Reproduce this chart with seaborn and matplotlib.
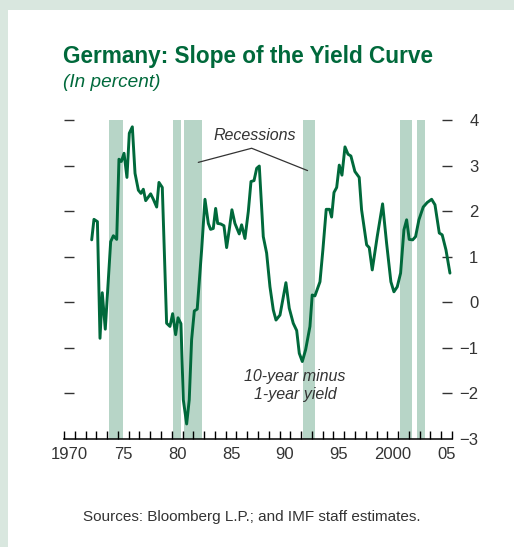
import matplotlib
matplotlib.use("Agg")
import matplotlib.pyplot as plt
import seaborn as sns
from matplotlib.patches import Rectangle

# data: 10-year minus 1-year yield, Germany
years = [1972.57, 1972.78, 1973.10, 1973.34, 1973.55, 1973.83, 1974.33, 1974.58, 1974.89,
         1975.10, 1975.32, 1975.57, 1975.84, 1976.06, 1976.34, 1976.59, 1976.90, 1977.14,
         1977.36, 1977.58, 1978.04, 1978.29, 1978.60, 1978.81, 1979.12, 1979.52, 1979.83,
         1980.08, 1980.36, 1980.58, 1980.85, 1981.07, 1981.38, 1981.62, 1981.84, 1982.09,
         1982.36, 1982.77, 1983.08, 1983.39, 1983.60, 1983.85, 1984.07, 1984.26, 1984.53,
         1984.84, 1985.09, 1985.33, 1985.58, 1985.86, 1986.26, 1986.48, 1986.79, 1987.10,
         1987.35, 1987.63, 1987.88, 1988.12, 1988.49, 1988.80, 1989.11, 1989.42, 1989.67,
         1990.04, 1990.59, 1990.90, 1991.27, 1991.59, 1991.83, 1992.11, 1992.42, 1992.82,
         1993.03, 1993.28, 1993.75, 1994.02, 1994.33, 1994.64, 1994.83, 1995.05, 1995.30,
         1995.54, 1995.79, 1996.07, 1996.35, 1996.62, 1996.99, 1997.39, 1997.61, 1998.08,
         1998.32, 1998.60, 1999.06, 1999.56, 1999.93, 2000.33, 2000.61, 2000.92, 2001.23,
         2001.54, 2001.79, 2002.03, 2002.35, 2002.62, 2002.93, 2003.33, 2003.70, 2004.11,
         2004.42, 2004.82, 2005.09, 2005.44, 2005.81]
slope = [1.37, 1.82, 1.77, -0.79, 0.21, -0.59, 1.33, 1.46, 1.38,
         3.14, 3.09, 3.27, 2.74, 3.71, 3.85, 2.83, 2.46, 2.39,
         2.48, 2.23, 2.38, 2.26, 2.09, 2.63, 2.52, -0.46, -0.53,
         -0.25, -0.71, -0.34, -0.47, -2.14, -2.67, -2.14, -0.82, -0.19,
         -0.15, 1.15, 2.26, 1.73, 1.60, 1.62, 2.06, 1.73, 1.72,
         1.68, 1.20, 1.59, 2.03, 1.73, 1.50, 1.70, 1.40, 1.99,
         2.65, 2.67, 2.94, 2.99, 1.44, 1.08, 0.34, -0.17, -0.39,
         -0.28, 0.43, -0.13, -0.46, -0.62, -1.12, -1.30, -1.04, -0.53,
         0.16, 0.14, 0.45, 1.15, 2.04, 2.04, 1.87, 2.41, 2.52,
         3.01, 2.79, 3.41, 3.25, 3.21, 2.87, 2.74, 2.03, 1.26,
         1.20, 0.71, 1.44, 2.16, 1.30, 0.45, 0.23, 0.34, 0.64,
         1.59, 1.81, 1.38, 1.37, 1.44, 1.81, 2.09, 2.19, 2.26,
         2.14, 1.52, 1.48, 1.15, 0.64]

# recession periods
rec_start = [1974.2, 1980.08, 1981.13, 1992.14, 2001.17, 2002.75]
rec_end = [1975.47, 1980.82, 1982.8, 1993.28, 2002.28, 2003.5]

x_label_years = [1970, 1975, 1980, 1985, 1990, 1995, 2000, 2005]
x_labels = ["1970", "75", "80", "85", "90", "95", "2000", "05"]
y_ticks = [-3, -2, -1, 0, 1, 2, 3, 4]

green = "#00693b"
band = "#b7d5c7"
grey_text = "#333333"

sns.set_style("white")
plt.rcParams["font.family"] = ["Liberation Sans", "DejaVu Sans"]

fig = plt.figure(figsize=(5.14, 5.47), dpi=100)
fig.patch.set_facecolor("#d9e7df")
fig.patches.append(Rectangle((8 / 514, 0), 1, 1 - 10 / 547, transform=fig.transFigure,
                             facecolor="white", edgecolor="none", zorder=-5))

ax = fig.add_axes([64 / 514, 1 - 439 / 547, 388 / 514, 319 / 547])
ax.set_facecolor("none")
ax.set_zorder(2)

for s, e in zip(rec_start, rec_end):
    ax.axvspan(s, e, color=band, lw=0, zorder=0)

sns.lineplot(x=years, y=slope, ax=ax, color=green, linewidth=2.1, zorder=3)

ax.set_xlim(1970, 2006)
ax.set_ylim(-3, 4)

for side in ["top", "left", "right"]:
    ax.spines[side].set_visible(False)
ax.spines["bottom"].set_color("black")
ax.spines["bottom"].set_linewidth(1.1)

# year ticks on boundaries, labels at mid-year
ax.set_xticks([y + 0.5 for y in x_label_years])
ax.set_xticklabels(x_labels, fontsize=12, color=grey_text)
ax.set_xticks(range(1970, 2007), minor=True)
ax.tick_params(axis="x", which="major", length=0, pad=6)
ax.tick_params(axis="x", which="minor", bottom=True, direction="in", length=6, width=1, color="black")

ax.set_yticks(y_ticks)
ax.set_yticklabels([("\u2212" + str(-v)) if v < 0 else str(v) for v in y_ticks], fontsize=12, color=grey_text)
ax.tick_params(axis="y", which="major", left=True, right=True, labelleft=False, labelright=True,
               direction="in", length=7, width=1, color="#333333", pad=19)
for lab in ax.get_yticklabels():
    lab.set_horizontalalignment("right")
ax.yaxis.get_major_ticks()[0].tick1line.set_visible(False)
ax.yaxis.get_major_ticks()[0].tick2line.set_visible(False)
ax.set_xlabel("")
ax.set_ylabel("")
ax.grid(False)

# annotations
ax.text(1987.72, 3.67, "Recessions", ha="center", va="center", fontsize=11.5,
        style="italic", color=grey_text)
ax.plot([1982.46, 1987.41, 1992.6], [3.07, 3.38, 2.89], color=grey_text, lw=0.9, zorder=4)
ax.text(1991.43, -1.83, "10-year minus\n1-year yield", ha="center", va="center", fontsize=11.5,
        style="italic", color=grey_text, linespacing=1.2)

fig.text(63 / 514, 1 - 63 / 547, "Germany: Slope of the Yield Curve", fontsize=16.3,
         fontweight="bold", color=green, ha="left", va="baseline")
fig.text(63 / 514, 1 - 87 / 547, "(In percent)", fontsize=13.7, style="italic",
         color=green, ha="left", va="baseline")
fig.text(83 / 514, 1 - 521 / 547, "Sources: Bloomberg L.P.; and IMF staff estimates.",
         fontsize=11, color=grey_text, ha="left", va="baseline")

fig.savefig("out.png", dpi=100, facecolor=fig.get_facecolor())
